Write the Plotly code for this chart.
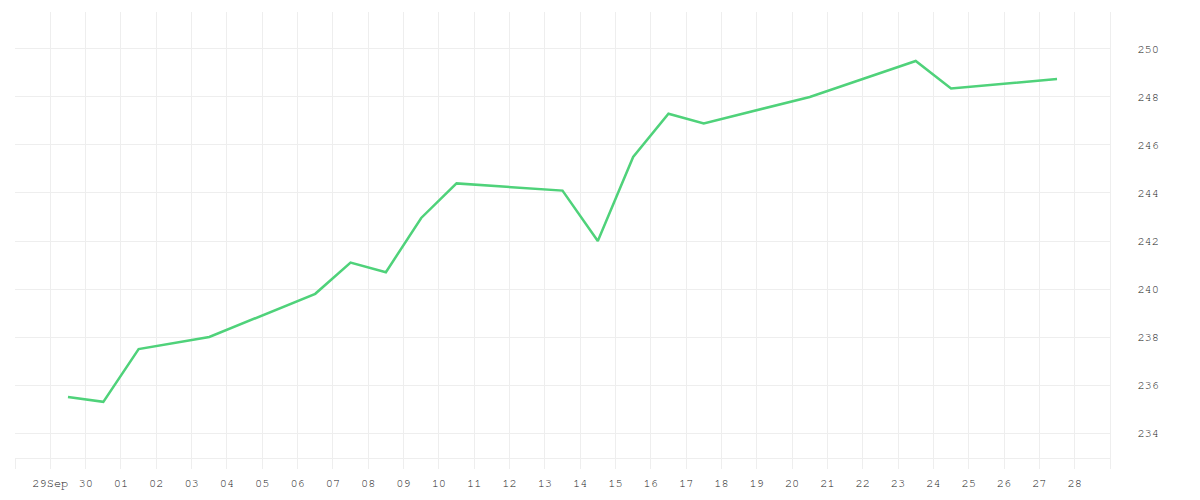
import plotly.graph_objects as go
import pandas as pd

# Data (dates at noon)
dates = ["2023-09-29 12:00", "2023-09-30 12:00", "2023-10-01 12:00", "2023-10-03 12:00",
         "2023-10-06 12:00", "2023-10-07 12:00", "2023-10-08 12:00", "2023-10-09 12:00",
         "2023-10-10 12:00", "2023-10-13 12:00", "2023-10-14 12:00", "2023-10-15 12:00",
         "2023-10-16 12:00", "2023-10-17 12:00", "2023-10-20 12:00", "2023-10-23 12:00",
         "2023-10-24 12:00", "2023-10-27 12:00"]
values = [235.5, 235.3, 237.5, 238.0,
          239.8, 241.1, 240.7, 242.96,
          244.4, 244.1, 242.0, 245.5,
          247.3, 246.9, 248.0, 249.5,
          248.35, 248.75]

tick_dates = pd.date_range("2023-09-28", "2023-10-29", freq="D")
tick_labels = ["", "29Sep", "30", "01", "02", "03", "04", "05", "06", "07", "08", "09",
               "10", "11", "12", "13", "14", "15", "16", "17", "18", "19", "20", "21",
               "22", "23", "24", "25", "26", "27", "28", ""]

grid = "#eeeeee"
font = dict(family="FreeMono, Liberation Mono, monospace", size=12, color="#222222")

fig = go.Figure()
fig.add_trace(go.Scatter(x=dates, y=values, mode="lines",
                         line=dict(color="#4fd27a", width=2.5),
                         hoverinfo="x+y"))

fig.update_layout(
    width=1192, height=492,
    margin=dict(l=7, r=90, t=4, b=42),
    paper_bgcolor="white", plot_bgcolor="white",
    showlegend=False,
    font=font,
    xaxis=dict(
        type="date",
        range=["2023-09-28", "2023-10-29"],
        tickmode="array",
        tickvals=list(tick_dates),
        ticktext=tick_labels,
        showgrid=True, gridcolor=grid, gridwidth=1,
        ticks="outside", ticklen=10, tickcolor=grid, tickwidth=1,
        ticklabelstandoff=4,
        showline=True, linecolor=grid, linewidth=1,
        zeroline=False,
        tickfont=font,
    ),
    yaxis=dict(
        side="right",
        range=[232.96, 251.54],
        tick0=234, dtick=2,
        showgrid=True, gridcolor=grid, gridwidth=1,
        ticks="",
        ticklabelstandoff=24,
        showline=True, linecolor=grid, linewidth=1,
        zeroline=False,
        tickfont=font,
    ),
)

fig.write_html("out.html")
